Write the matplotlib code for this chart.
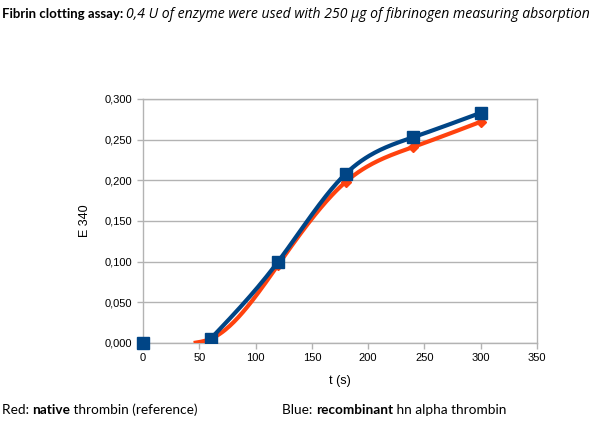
import numpy as np
import matplotlib
matplotlib.use("Agg")
import matplotlib.pyplot as plt
from matplotlib.ticker import FuncFormatter

# Data
blue_t = [60, 120, 180, 240, 300]
blue_e = [0.005, 0.100, 0.208, 0.253, 0.283]
blue_start_t = [0]
blue_start_e = [0.0]
red_t = [45, 60, 120, 180, 240, 300]
red_e = [0.0, 0.005, 0.096, 0.198, 0.241, 0.272]

x_ticks = [0, 50, 100, 150, 200, 250, 300, 350]
y_ticks = [0.0, 0.05, 0.10, 0.15, 0.20, 0.25, 0.30]


def smooth(x, y, n=200):
    x = np.asarray(x, float)
    y = np.asarray(y, float)
    k = len(x)
    h = np.diff(x)
    A = np.zeros((k, k))
    b = np.zeros(k)
    A[0, 0] = 1
    A[-1, -1] = 1
    for i in range(1, k - 1):
        A[i, i - 1] = h[i - 1]
        A[i, i] = 2 * (h[i - 1] + h[i])
        A[i, i + 1] = h[i]
        b[i] = 3 * ((y[i + 1] - y[i]) / h[i] - (y[i] - y[i - 1]) / h[i - 1])
    c = np.linalg.solve(A, b)
    xs = np.linspace(x[0], x[-1], n)
    ys = np.empty_like(xs)
    for j, xv in enumerate(xs):
        i = min(np.searchsorted(x, xv, side="right") - 1, k - 2)
        dx = xv - x[i]
        bb = (y[i + 1] - y[i]) / h[i] - h[i] * (2 * c[i] + c[i + 1]) / 3
        d = (c[i + 1] - c[i]) / (3 * h[i])
        ys[j] = y[i] + bb * dx + c[i] * dx ** 2 + d * dx ** 3
    return xs, ys


fig = plt.figure(figsize=(5.9, 4.25), dpi=100)
W, H = 590, 425
L, R, T, B = 143, 537, 99, 343
ax = fig.add_axes([L / W, 1 - B / H, (R - L) / W, (B - T) / H])

blue = "#004586"
red = "#ff420e"

rx, ry = smooth(red_t, red_e)
ax.plot(rx, ry, color=red, lw=3, zorder=3, solid_capstyle="butt")
ax.plot(red_t[1:], red_e[1:], ls="none", marker="D", ms=5.5, color=red, zorder=4)

bx, by = smooth(blue_t, blue_e)
ax.plot(bx, by, color=blue, lw=3, zorder=5)
ax.plot(blue_t, blue_e, ls="none", marker="s", ms=8.5, color=blue, zorder=6)
ax.plot(blue_start_t, blue_start_e, ls="none", marker="s", ms=8.5, color=blue,
        zorder=6, clip_on=False)

ax.set_xlim(0, 350)
ax.set_ylim(0, 0.3)
ax.set_xticks(x_ticks)
ax.set_yticks(y_ticks)
ax.yaxis.set_major_formatter(FuncFormatter(lambda v, p: f"{v:.3f}".replace(".", ",")))
ax.grid(axis="y", color="#b3b3b3", lw=1)
ax.set_axisbelow(True)
for s in ax.spines.values():
    s.set_color("#b3b3b3")
    s.set_linewidth(1)
ax.tick_params(axis="both", colors="#b3b3b3", length=4, width=1, labelcolor="black",
               labelsize=8)
for lab in ax.get_xticklabels() + ax.get_yticklabels():
    lab.set_fontfamily("Liberation Sans")
ax.set_xlabel("t (s)", fontsize=9, family="Liberation Sans", labelpad=8)
ax.set_ylabel("E 340", fontsize=9, family="Liberation Sans", labelpad=10)

renderer = fig.canvas.get_renderer()


def chain(x_px, y_px, pieces):
    x = x_px
    for txt, kw in pieces:
        kw = dict(kw)
        kw.setdefault("family", "Lato")
        kw.setdefault("fontsize", 9.8)
        t = fig.text(x / W, 1 - y_px / H, txt, va="center", ha="left", **kw)
        bb = t.get_window_extent(renderer)
        x += bb.width
    return x


sp = {}
chain(2, 14, [("Fibrin clotting assay: ", {"weight": "bold", "fontsize": 9.5}),
              ("0,4 U of enzyme were used with 250 µg of fibrinogen measuring absorption",
               {"style": "italic", "family": "Open Sans", "fontsize": 10.1})])
chain(2, 410, [("Red: ", sp), ("native", {"weight": "bold"}),
               (" thrombin (reference)", sp)])
chain(282, 410, [("Blue: ", sp), ("recombinant", {"weight": "bold"}),
                 (" hn alpha thrombin", sp)])

fig.savefig("out.png", dpi=100)
